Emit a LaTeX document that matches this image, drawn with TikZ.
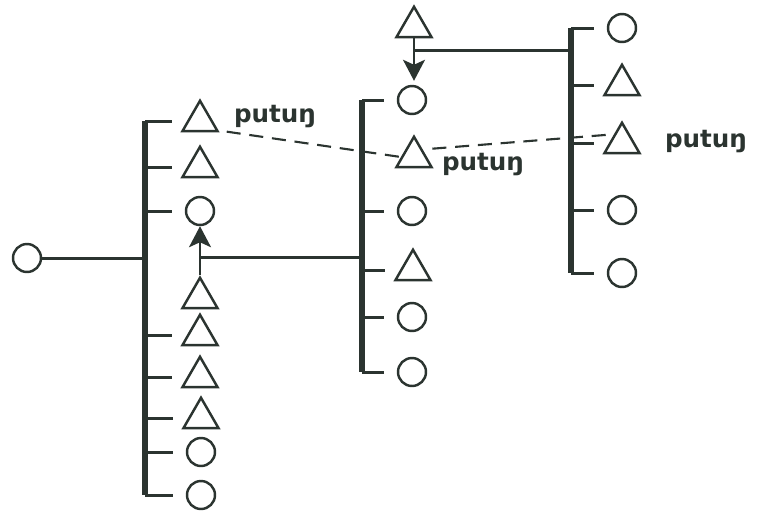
\documentclass[tikz,border=0pt]{standalone}
\usepackage{fontspec}
\setmainfont{DejaVu Sans}
\usetikzlibrary{shapes.geometric,arrows.meta,positioning}
\definecolor{ink}{HTML}{2B3430}

\begin{document}
\begin{tikzpicture}[x=0.02cm,y=-0.02cm,color=ink,line width=1.7pt,
    fem/.style={circle,draw,line width=1.4pt,inner sep=0pt,minimum size=0.56cm},
    mal/.style={regular polygon,regular polygon sides=3,draw,line width=1.4pt,
      inner sep=0pt,minimum size=0.81cm},
    bar/.style={line width=3.4pt},
    tick/.style={line width=1.7pt},
    broken/.style={dash pattern=on 8pt off 5pt,line width=1.2pt},
    lbl/.style={font=\fontsize{14}{17}\selectfont\bfseries},
    arr/.style={-{Stealth[length=0.42cm,width=0.44cm,inset=0.1cm]},line width=1.2pt}]
  \useasboundingbox (0,0) rectangle (757,512);
  % ego
  \node[fem] (O0) at (27,258) {};
  % left sibling set
  \coordinate (Lbar) at (145,0);
  \node[mal] (L1) at (200,121) {};
  \node[mal] (L2) at (200,167) {};
  \node[fem] (L3) at (200,211) {};
  \node[mal] (L4) at (200,298) {};
  \node[mal] (L5) at (200,335) {};
  \node[mal] (L6) at (200,377) {};
  \node[mal] (L7) at (201,418) {};
  \node[fem] (L8) at (201,452) {};
  \node[fem] (L9) at (201,495) {};
  \draw[bar] (Lbar |- L1) -- (Lbar |- L9);
  \foreach \s in {L1,L2,L3,L5,L6,L7,L8,L9}
    \draw[tick] (Lbar |- \s) -- ([xshift=-0.56cm]\s.center);
  \draw (O0.east) -- (Lbar |- O0);
  % middle sibling set
  \coordinate (Mbar) at (362,0);
  \node[mal] (M0) at (414,27) {};
  \node[fem] (M1) at (412,100) {};
  \node[mal] (M2) at (414,157) {};
  \node[fem] (M3) at (412,211) {};
  \node[mal] (M4) at (413,270) {};
  \node[fem] (M5) at (412,317) {};
  \node[fem] (M6) at (412,372) {};
  \draw[bar] (Mbar |- M1) -- (Mbar |- M6);
  \foreach \s in {M1,M3,M4,M5,M6}
    \draw[tick] (Mbar |- \s) -- ([xshift=-0.56cm]\s.center);
  % right sibling set
  \coordinate (Rbar) at (571,0);
  \node[fem] (R1) at (622,28) {};
  \node[mal] (R2) at (622,85) {};
  \node[mal] (R3) at (622,143) {};
  \node[fem] (R4) at (622,210) {};
  \node[fem] (R5) at (622,273) {};
  \draw[bar] (Rbar |- R1) -- (Rbar |- R5);
  \foreach \s in {R1,R2,R3,R4,R5}
    \draw[tick] (Rbar |- \s) -- ([xshift=-0.56cm]\s.center);
  % marriages
  \coordinate (jL) at (362,257);
  \draw (jL) -- (L4 |- jL);
  \draw[arr] (L4.north) -- (L3.south);
  \coordinate (jR) at (571,50);
  \draw (jR) -- (M0 |- jR);
  \draw[arr] (M0.south) -- ([yshift=0.08cm]M0.south |- M1.north);
  % labels
  \node[lbl] (lab1) at (275,117) {putuŋ};
  \node[lbl] (lab2) at (483,165) {putuŋ};
  \node[lbl] (lab3) at (706,142) {putuŋ};
  \draw[broken] ([yshift=0.08cm]lab1.south west) -- (M2.west);
  \draw[broken] ([xshift=0.2cm]M2.north east) -- ([xshift=-0.1cm]R3.north west);
\end{tikzpicture}
\end{document}
